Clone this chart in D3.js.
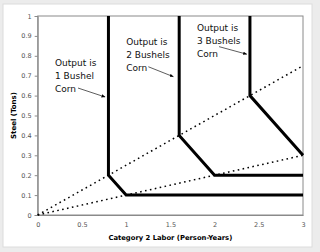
<!DOCTYPE html>
<html lang="en">
<head>
<meta charset="utf-8">
<title>Isoquants</title>
<script src="https://d3js.org/d3.v7.min.js"></script>
<style>
  body { margin: 0; background: #ececec; }
  text { font-family: "DejaVu Sans", Verdana, sans-serif; }
</style>
</head>
<body>
<script>
// tick labels
const xTicks = [0, 0.5, 1, 1.5, 2, 2.5, 3];
const yTicks = [0, 0.1, 0.2, 0.3, 0.4, 0.5, 0.6, 0.7, 0.8, 0.9, 1];

// isoquants (labor, steel)
const iso1 = [[0.8, 1], [0.8, 0.2], [1, 0.1], [3, 0.1]];
const iso2 = [[1.6, 1], [1.6, 0.4], [2, 0.2], [3, 0.2]];
const iso3 = [[2.4, 1], [2.4, 0.6], [3, 0.3]];

// dotted process rays
const ray1 = [[0, 0], [3, 0.75]];
const ray2 = [[0, 0], [3, 0.3]];

// annotations
const noteLines = [
  ["Output is", "1 Bushel", "Corn"],
  ["Output is", "2 Bushels", "Corn"],
  ["Output is", "3 Bushels", "Corn"]
];
const notePos = [[0.196, 0.767], [1.0, 0.868], [1.8, 0.941]];
const arrowFrom = [[0.456, 0.638], [1.251, 0.745], [2.051, 0.846]];
const arrowTo = [[0.762, 0.593], [1.534, 0.695], [2.364, 0.808]];

const w = 320, h = 252;
const margin = {left: 37.7, right: 17, top: 16, bottom: 37};

const svg = d3.select("body").append("svg")
  .attr("width", w).attr("height", h);

// outer frame
svg.append("rect")
  .attr("x", 3).attr("y", 4)
  .attr("width", 309).attr("height", 243)
  .attr("fill", "#fff")
  .attr("stroke", "#dcdcdc");

const x = d3.scaleLinear().domain([0, 3]).range([margin.left, w - margin.right]);
const y = d3.scaleLinear().domain([0, 1]).range([h - margin.bottom, margin.top]);

svg.append("defs").append("marker")
  .attr("id", "head")
  .attr("viewBox", "0 0 10 10")
  .attr("refX", 9).attr("refY", 5)
  .attr("markerWidth", 5).attr("markerHeight", 5)
  .attr("orient", "auto")
  .append("path")
  .attr("d", "M0,1L10,5L0,9z")
  .attr("fill", "#000");

// plot border
svg.append("rect")
  .attr("x", x(0)).attr("y", y(1))
  .attr("width", x(3) - x(0)).attr("height", y(0) - y(1))
  .attr("fill", "none")
  .attr("stroke", "#8a8a8a");

// y axis
const yAxis = svg.append("g")
  .attr("transform", "translate(" + x(0) + ",0)")
  .call(d3.axisLeft(y).tickValues(yTicks).tickSize(3).tickPadding(3)
    .tickFormat(d => d3.format("")(+d.toFixed(1))));
yAxis.select(".domain").attr("stroke", "#8a8a8a");
yAxis.selectAll(".tick line").attr("stroke", "#8a8a8a");
yAxis.selectAll("text").attr("fill", "#555").style("font-size", "6.5px");

// x axis
const xAxis = svg.append("g")
  .attr("transform", "translate(0," + y(0) + ")")
  .call(d3.axisBottom(x).tickValues(xTicks).tickSize(0).tickPadding(7)
    .tickFormat(d3.format("")));
xAxis.select(".domain").attr("stroke", "#8a8a8a");
xAxis.selectAll("text").attr("fill", "#555").style("font-size", "6.5px");

// axis titles
svg.append("text")
  .attr("x", (x(0) + x(3)) / 2).attr("y", 240)
  .attr("text-anchor", "middle")
  .style("font-size", "6.8px").style("font-weight", "bold")
  .text("Category 2 Labor (Person-Years)");

svg.append("text")
  .attr("transform", "translate(16," + y(0.5) + ") rotate(-90)")
  .attr("text-anchor", "middle")
  .style("font-size", "7px").style("font-weight", "bold")
  .text("Steel (Tons)");

const line = d3.line().x(d => x(d[0])).y(d => y(d[1]));

// rays
svg.selectAll(".ray").data([ray1, ray2]).enter().append("path")
  .attr("class", "ray")
  .attr("d", line)
  .attr("fill", "none")
  .attr("stroke", "#000")
  .attr("stroke-width", 1.5)
  .attr("stroke-dasharray", "1.6,3.4");

// isoquants
svg.selectAll(".iso").data([iso1, iso2, iso3]).enter().append("path")
  .attr("class", "iso")
  .attr("d", line)
  .attr("fill", "none")
  .attr("stroke", "#000")
  .attr("stroke-width", 3)
  .attr("stroke-linejoin", "miter");

// notes
noteLines.forEach(function(lines, i) {
  const t = svg.append("text")
    .attr("x", x(notePos[i][0]))
    .attr("y", y(notePos[i][1]))
    .attr("dy", "0.35em")
    .style("font-size", "9px")
    .attr("fill", "#111");
  lines.forEach(function(s, j) {
    t.append("tspan")
      .attr("x", x(notePos[i][0]))
      .attr("dy", j == 0 ? "0.35em" : 13)
      .text(s);
  });
  svg.append("line")
    .attr("x1", x(arrowFrom[i][0])).attr("y1", y(arrowFrom[i][1]))
    .attr("x2", x(arrowTo[i][0])).attr("y2", y(arrowTo[i][1]))
    .attr("stroke", "#333")
    .attr("stroke-width", 0.8)
    .attr("marker-end", "url(#head)");
});
</script>
</body>
</html>
